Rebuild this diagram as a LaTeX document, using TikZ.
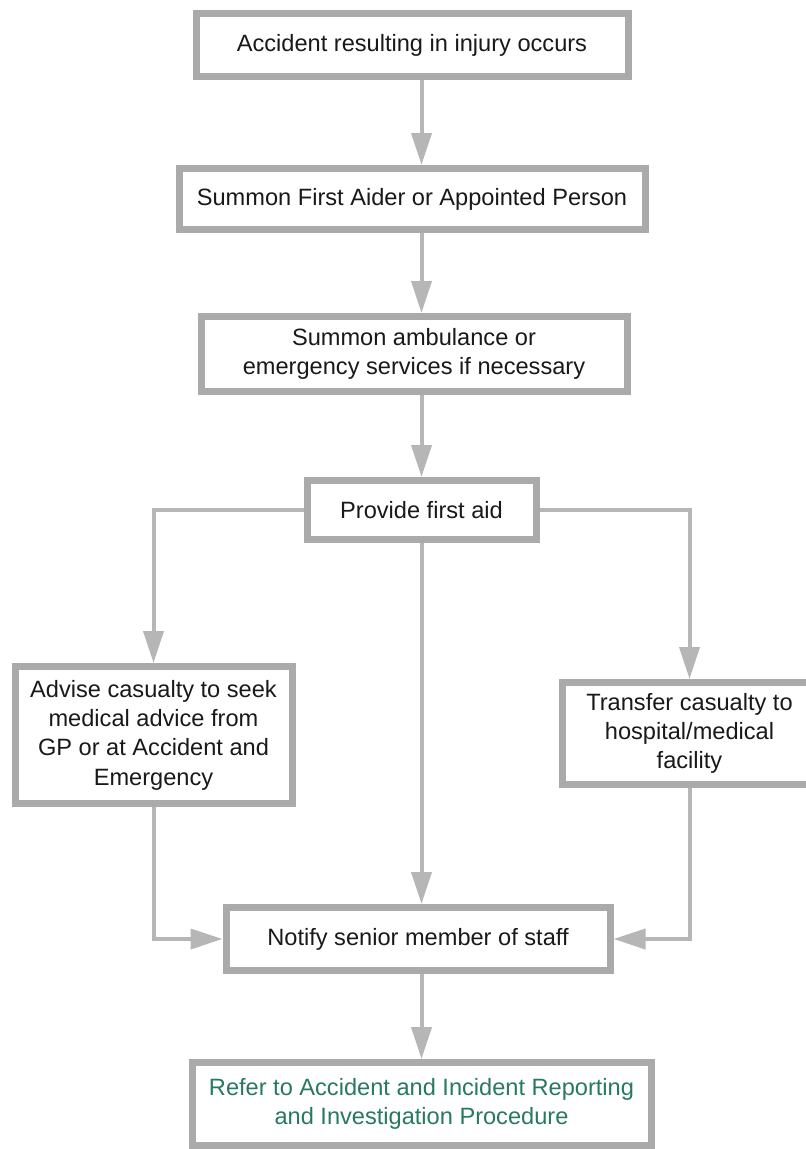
\documentclass[tikz,border=0pt]{standalone}
\usepackage{fontspec}
\setmainfont{Liberation Sans}
\usepackage{xcolor}
\usetikzlibrary{positioning,arrows.meta}

\definecolor{boxgrey}{RGB}{170,170,170}
\definecolor{linegrey}{RGB}{182,182,182}
\definecolor{refgreen}{RGB}{40,122,92}

\begin{document}
\begin{tikzpicture}[
  x=1pt, y=1pt,
  font={\fontsize{23.6pt}{29.3pt}\selectfont},
  box/.style={
    rectangle, draw=boxgrey, line width=7pt, fill=white,
    align=center, inner sep=0pt, text=black!90,
  },
  refbox/.style={box, text=refgreen},
  flow/.style={draw=linegrey, line width=4pt, -{Triangle[length=32pt, width=20pt]}},
]
\useasboundingbox (0,0) rectangle (806,-1149);

\node[box, minimum width=432pt, minimum height=63pt] (acc) at (412,-45)
  {Accident resulting in injury occurs};
\node[box, minimum width=466pt, minimum height=61pt, below=85pt of acc] (fa)
  {Summon First Aider or Appointed Person};
\node[box, minimum width=426pt, minimum height=75pt, below=80pt of fa, xshift=2pt] (amb)
  {Summon ambulance or\\emergency services if necessary};
\node[box, minimum width=229pt, minimum height=59pt, below=82pt of amb, xshift=7.5pt] (aid)
  {Provide first aid};

\node[box, minimum width=277pt, minimum height=137pt, below left=120pt and 8pt of aid] (adv)
  {Advise casualty to seek\\medical advice from\\GP or at Accident and\\Emergency};
\node[box, minimum width=255pt, minimum height=102pt, below right=136pt and 19pt of aid] (trn)
  {Transfer casualty to\\hospital/medical\\facility};

\node[box, minimum width=384pt, minimum height=63pt, below=361pt of aid, xshift=-3.5pt] (ntf)
  {Notify senior member of staff};
\node[refbox, minimum width=459pt, minimum height=83pt, below=85pt of ntf, xshift=3.5pt] (ref)
  {Refer to Accident and Incident Reporting\\and Investigation Procedure};

\draw[flow] (acc.south -| aid) -- (fa.north -| aid);
\draw[flow] (fa.south -| aid) -- (amb.north -| aid);
\draw[flow] (amb.south -| aid) -- (aid.north);
\draw[flow] (aid.west) -| (adv.north);
\draw[flow] (aid.east) -| (trn.north);
\draw[flow] (aid.south) -- (ntf.north -| aid);
\draw[flow] (adv.south) |- (ntf.west);
\draw[flow] (trn.south) |- (ntf.east);
\draw[flow] (ntf.south -| aid) -- (ref.north -| aid);
\end{tikzpicture}
\end{document}
